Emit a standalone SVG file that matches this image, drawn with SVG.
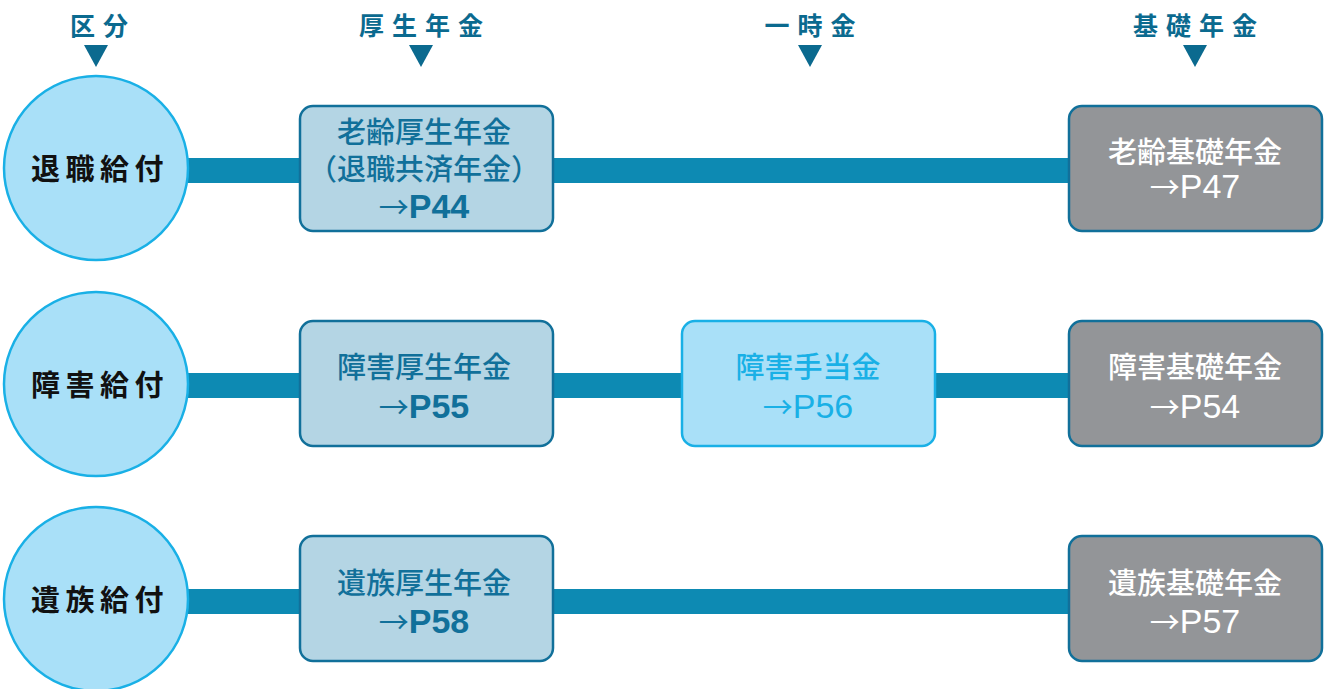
<svg xmlns="http://www.w3.org/2000/svg" width="1326" height="689" viewBox="0 0 1326 689">
<style>
.hdr{font-family:"Noto Sans CJK JP",sans-serif;font-weight:700;font-size:25px;fill:#0b6a8f;letter-spacing:8px;text-anchor:middle}
.tri{fill:#0b6a8f}
.circ{fill:#a9e0f8;stroke:#19b0e6;stroke-width:2.5}
.ctxt{font-family:"Noto Sans CJK JP",sans-serif;font-weight:700;font-size:29px;fill:#111;letter-spacing:5.5px;text-anchor:middle}
.bx{fill:#b4d5e4;stroke:#11709a;stroke-width:2.5}
.gx{fill:#939598;stroke:#11709a;stroke-width:2.5}
.lx{fill:#a9e0f8;stroke:#19b0e6;stroke-width:2.5}
.t{font-family:"Noto Sans CJK JP",sans-serif;font-weight:500;font-size:29px;text-anchor:middle}
.teal{fill:#11709a}
.white{fill:#fff}
.sky{fill:#19b0e6}
.ar{font-family:"Noto Sans CJK JP",sans-serif;font-weight:400;font-size:30px}
.pg{font-family:"Liberation Sans",Arial,sans-serif;font-size:34px;font-weight:400}
.pgb{font-family:"Liberation Sans",Arial,sans-serif;font-size:34px;font-weight:700}
.bar{fill:#0d8ab3}
</style>
<g id="headers">
<text class="hdr" x="103" y="35">区分</text>
<text class="hdr" x="425" y="35">厚生年金</text>
<text class="hdr" x="814" y="35">一時金</text>
<text class="hdr" x="1199" y="35">基礎年金</text>
<polygon class="tri" points="84,45 108,45 96,67"/>
<polygon class="tri" points="409,45 433,45 421,67"/>
<polygon class="tri" points="798,45 822,45 810,67"/>
<polygon class="tri" points="1183,45 1207,45 1195,67"/>
</g>
<g id="connectors">
<rect class="bar" x="186" y="158" width="884" height="25"/>
<rect class="bar" x="186" y="373" width="884" height="25"/>
<rect class="bar" x="186" y="589" width="884" height="25"/>
</g>
<g id="row1-circle"><circle class="circ" cx="96" cy="168" r="92"/><text class="ctxt" x="100" y="180">退職給付</text></g>
<g id="row2-circle"><circle class="circ" cx="96" cy="384" r="92"/><text class="ctxt" x="100" y="396">障害給付</text></g>
<g id="row3-circle"><circle class="circ" cx="96" cy="599" r="92"/><text class="ctxt" x="100" y="611">遺族給付</text></g>
<g id="row1-kousei"><rect class="bx" x="300" y="106" width="253" height="125" rx="13"/>
<text class="t teal" x="424" y="143">老齢厚生年金</text>
<text class="t teal" x="424" y="180">（退職共済年金）</text>
<text class="t teal" x="424" y="218"><tspan class="ar">→</tspan><tspan class="pgb">P44</tspan></text></g>
<g id="row1-kiso"><rect class="gx" x="1069" y="106" width="253" height="125" rx="13"/>
<text class="t white" x="1195" y="163">老齢基礎年金</text>
<text class="t white" x="1195" y="198"><tspan class="ar">→</tspan><tspan class="pg">P47</tspan></text></g>
<g id="row2-kousei"><rect class="bx" x="300" y="321" width="253" height="125" rx="13"/>
<text class="t teal" x="424" y="378">障害厚生年金</text>
<text class="t teal" x="424" y="418"><tspan class="ar">→</tspan><tspan class="pgb">P55</tspan></text></g>
<g id="row2-ichiji"><rect class="lx" x="682" y="321" width="253" height="125" rx="13"/>
<text class="t sky" x="808" y="378">障害手当金</text>
<text class="t sky" x="808" y="418"><tspan class="ar">→</tspan><tspan class="pg">P56</tspan></text></g>
<g id="row2-kiso"><rect class="gx" x="1069" y="321" width="253" height="125" rx="13"/>
<text class="t white" x="1195" y="378">障害基礎年金</text>
<text class="t white" x="1195" y="418"><tspan class="ar">→</tspan><tspan class="pg">P54</tspan></text></g>
<g id="row3-kousei"><rect class="bx" x="300" y="536" width="253" height="125" rx="13"/>
<text class="t teal" x="424" y="594">遺族厚生年金</text>
<text class="t teal" x="424" y="633"><tspan class="ar">→</tspan><tspan class="pgb">P58</tspan></text></g>
<g id="row3-kiso"><rect class="gx" x="1069" y="536" width="253" height="125" rx="13"/>
<text class="t white" x="1195" y="594">遺族基礎年金</text>
<text class="t white" x="1195" y="633"><tspan class="ar">→</tspan><tspan class="pg">P57</tspan></text></g>
</svg>
